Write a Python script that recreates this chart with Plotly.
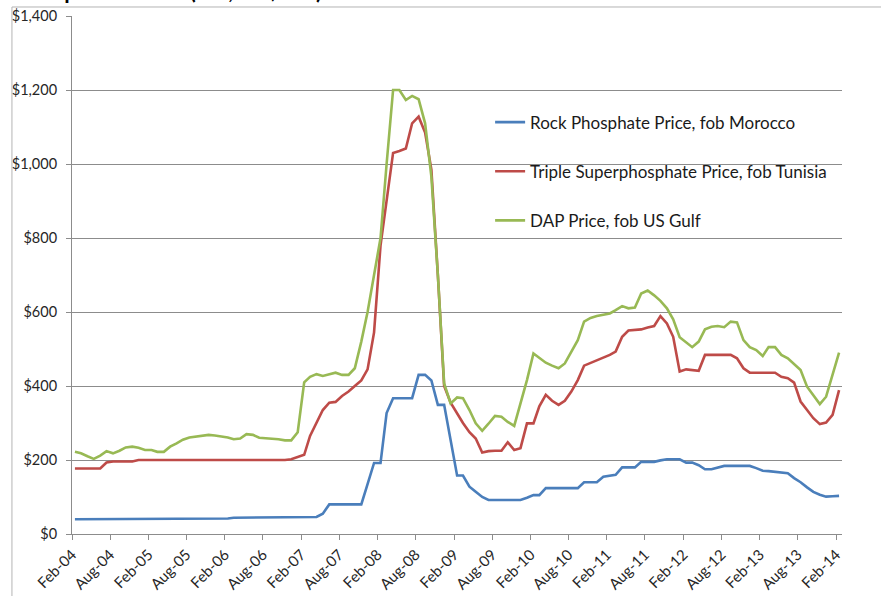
import pandas as pd
import plotly.graph_objects as go

# Monthly prices, Feb-2004 .. Feb-2014 (US$ per tonne)
months = pd.date_range("2004-02-01", periods=121, freq="MS") + pd.Timedelta(days=14)

rock_phosphate = [
    40, 40, 40, 42, 42, 42, 42, 42, 42, 42, 42, 42, 42, 42, 42, 42, 42, 42, 42, 42,
    42, 42, 42, 42, 42, 44, 44, 44, 44, 46, 46, 46, 46, 46, 46, 46, 46, 46, 46, 55,
    80, 80, 80, 80, 80, 80, 135, 192, 192, 327, 367, 367, 367, 367, 430, 430, 415, 349, 349, 255,
    158, 158, 128, 114, 100, 92, 92, 92, 92, 92, 92, 98, 105, 105, 124, 124, 124, 124, 124, 124,
    140, 140, 140, 155, 157, 160, 180, 180, 180, 195, 195, 195, 199, 202, 202, 202, 193, 193, 186, 175,
    175, 180, 184, 184, 184, 184, 184, 178, 171, 170, 168, 165, 164, 151, 140, 126, 114, 106, 101, 102,
    103,
]

triple_superphosphate = [
    177, 177, 177, 177, 177, 193, 196, 196, 196, 196, 200, 200, 200, 200, 200, 200, 200, 200, 200, 200,
    200, 200, 200, 200, 200, 198, 198, 198, 198, 198, 200, 200, 200, 200, 202, 207, 214, 265, 300, 335,
    355, 357, 373, 385, 400, 415, 445, 545, 780, 905, 1030, 1035, 1042, 1110, 1128, 1085, 985, 700, 400, 355,
    325, 300, 275, 258, 220, 224, 225, 225, 248, 227, 232, 299, 299, 345, 376, 360, 349, 360, 385, 416,
    455, 462, 470, 475, 484, 493, 533, 550, 552, 553, 558, 562, 589, 569, 533, 439, 445, 443, 441, 484,
    484, 484, 484, 484, 475, 448, 436, 436, 436, 436, 436, 425, 421, 409, 358, 335, 313, 297, 301, 322,
    389,
]

dap = [
    222, 218, 210, 203, 212, 224, 218, 225, 234, 236, 233, 227, 227, 222, 222, 236, 245, 255, 261, 264,
    266, 268, 266, 263, 261, 256, 258, 270, 268, 260, 259, 258, 256, 253, 253, 275, 410, 425, 432, 427,
    432, 436, 430, 430, 448, 520, 600, 700, 800, 1000, 1200, 1200, 1173, 1184, 1175, 1110, 966, 700, 407, 353,
    369, 367, 335, 299, 279, 298, 319, 317, 303, 292, 350, 416, 488, 475, 463, 455, 448, 461, 492, 524,
    574, 584, 589, 593, 596, 605, 616, 610, 612, 650, 658, 645, 630, 610, 580, 532, 518, 505, 520, 553,
    560, 562, 559, 574, 572, 524, 505, 497, 481, 505, 505, 484, 475, 460, 443, 398, 376, 351, 371, 434,
    490,
]

series_names = [
    "Rock Phosphate Price, fob Morocco",
    "Triple Superphosphate Price, fob Tunisia",
    "DAP Price, fob US Gulf",
]
series_colors = ["#4A7EBB", "#BE4B48", "#98B954"]

tick_dates = pd.date_range("2004-02-01", periods=21, freq="6MS")
tick_labels = [
    "Feb-04", "Aug-04", "Feb-05", "Aug-05", "Feb-06", "Aug-06", "Feb-07",
    "Aug-07", "Feb-08", "Aug-08", "Feb-09", "Aug-09", "Feb-10", "Aug-10",
    "Feb-11", "Aug-11", "Feb-12", "Aug-12", "Feb-13", "Aug-13", "Feb-14",
]
y_ticks = [0, 200, 400, 600, 800, 1000, 1200, 1400]

FONT = "Lato, 'Open Sans', sans-serif"
GRID = "#8C8C8C"

fig = go.Figure()
for i, (name, values, color) in enumerate(
    zip(series_names, [rock_phosphate, triple_superphosphate, dap], series_colors)
):
    fig.add_trace(
        go.Scatter(
            x=months,
            y=values,
            name=name,
            mode="lines",
            legendgroup=f"g{i}",
            line=dict(color=color, width=2.6),
            hoverinfo="skip",
        )
    )

fig.update_layout(
    width=881,
    height=596,
    margin=dict(l=72, r=39, t=16, b=62, autoexpand=False),
    paper_bgcolor="white",
    plot_bgcolor="white",
    font=dict(family=FONT, size=14, color="#262626"),
    showlegend=True,
    legend=dict(
        x=0.543,
        y=0.829,
        xanchor="left",
        yanchor="top",
        bgcolor="rgba(0,0,0,0)",
        font=dict(family=FONT, size=17, color="#1a1a1a"),
        tracegroupgap=24,
        itemwidth=30,
    ),
    xaxis=dict(
        type="date",
        range=["2004-02-01", "2014-03-01"],
        tickvals=tick_dates,
        ticktext=tick_labels,
        tickangle=-45,
        ticks="outside",
        ticklen=5,
        tickcolor=GRID,
        showline=True,
        linecolor=GRID,
        linewidth=1,
        showgrid=False,
        zeroline=False,
        automargin=False,
        tickfont=dict(family=FONT, size=15, color="#262626"),
    ),
    yaxis=dict(
        range=[0, 1400],
        tickvals=y_ticks,
        tickformat="$,",
        ticks="outside",
        ticklen=5,
        tickcolor=GRID,
        showline=True,
        linecolor=GRID,
        linewidth=1,
        showgrid=True,
        gridcolor=GRID,
        gridwidth=1,
        zeroline=False,
        automargin=False,
        ticklabelstandoff=6,
        tickfont=dict(family=FONT, size=14.5, color="#262626"),
    ),
)

# Chart-area frame (top and left edges)
fig.add_shape(type="line", xref="paper", yref="paper",
              x0=-0.078, x1=1.06, y0=1.0174, y1=1.0174,
              line=dict(color="#B4B4B4", width=1))
fig.add_shape(type="line", xref="paper", yref="paper",
              x0=-0.078, x1=-0.078, y0=1.0174, y1=-0.13,
              line=dict(color="#B4B4B4", width=1))

# Chart title sitting above the frame
fig.add_annotation(
    text="Phosphate Prices (fob, US$/mt)",
    xref="paper", yref="paper",
    x=-0.075, y=1.0185,
    xanchor="left", yanchor="bottom",
    showarrow=False,
    font=dict(family=FONT, size=22, color="black", weight="bold"),
)

fig.write_html("out.html")
